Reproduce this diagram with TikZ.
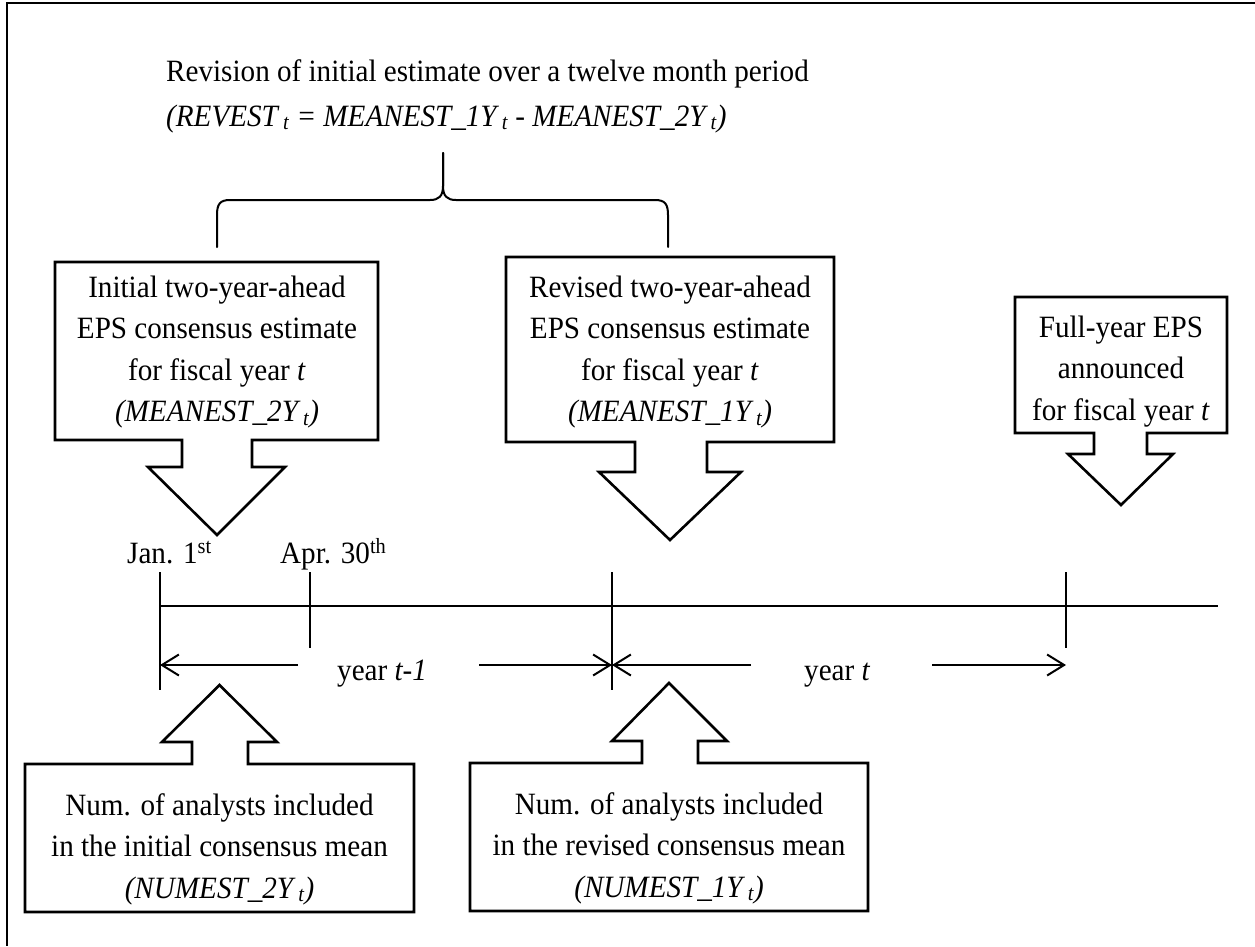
\documentclass[tikz,border=0pt]{standalone}
\usepackage{fontspec}
\setmainfont{Liberation Serif}[FakeStretch=0.94]
\usetikzlibrary{arrows.meta}
\begin{document}
\begin{tikzpicture}[x=1pt,y=-1pt,
  callout/.style={draw, line width=2.6pt, fill=white, line join=miter},
  txt/.style={font=\fontsize{31}{41.5}\selectfont, align=center, inner sep=0pt},
  lbl/.style={font=\fontsize{31}{41.5}\selectfont, inner sep=0pt},
  tl/.style={line width=2pt},
  yarr/.style={line width=2pt, -{Straight Barb[length=17pt,width=21pt,line width=2pt]}},
  bracepath/.style={line width=2pt, line cap=round}]
\useasboundingbox (0,0) rectangle (1255,946);
% frame (top and left)
\draw[line width=2.6pt] (1255,3) -- (7,3) -- (7,946);

% title
\node[txt, align=left, anchor=north west, font=\fontsize{31}{45}\selectfont] (title) at (166,59)
  {Revision of initial estimate over a twelve month period\\
   \textit{(REVEST\,\textsubscript{t} = MEANEST\_1Y\,\textsubscript{t} - MEANEST\_2Y\,\textsubscript{t})}};

% brace
\coordinate (bl) at (217,247);
\coordinate (br) at (668,247);
\coordinate (bt) at (443,153);
\draw[bracepath] (bl) -- (217,215) .. controls (217,204) and (220,200) .. (230,200) -- (430,200)
  .. controls (439,200) and (443,196) .. (443,186) -- (bt);
\draw[bracepath] (bt) -- (443,186) .. controls (443,196) and (447,200) .. (456,200) -- (655,200)
  .. controls (665,200) and (668,204) .. (668,215) -- (br);

% top callouts
\draw[callout] (55,262) -- (378,262) -- (378,440) -- (252,440) -- (252,467) -- (285,467) -- (217,535)
  -- (148,467) -- (182,467) -- (182,440) -- (55,440) -- cycle;
\node[txt] (t1) at (217,352) {Initial two-year-ahead\\EPS consensus estimate\\for fiscal year \textit{t}\\\textit{(MEANEST\_2Y\,\textsubscript{t})}};

\draw[callout] (506,257) -- (834,257) -- (834,442) -- (707,442) -- (707,472) -- (741,472) -- (670,540)
  -- (599,472) -- (635,472) -- (635,442) -- (506,442) -- cycle;
\node[txt] (t2) at (670,352) {Revised two-year-ahead\\EPS consensus estimate\\for fiscal year \textit{t}\\\textit{(MEANEST\_1Y\,\textsubscript{t})}};

\draw[callout] (1015,297) -- (1227,297) -- (1227,433) -- (1147,433) -- (1147,454) -- (1173,454) -- (1121,505)
  -- (1068,454) -- (1094,454) -- (1094,433) -- (1015,433) -- cycle;
\node[txt] (t3) at (1121,371.5) {Full-year EPS\\announced\\for fiscal year \textit{t}};

% timeline
\coordinate (jan) at (160,606);
\coordinate (apr) at (310,606);
\coordinate (mid) at (612,606);
\coordinate (end) at (1066,606);
\coordinate (tlend) at (1218,606);
\draw[tl] (jan) -- (tlend);
\draw[tl] (160,572) -- (160,690);
\draw[tl] (310,572) -- (310,648);
\draw[tl] (612,572) -- (612,690);
\draw[tl] (1066,572) -- (1066,648);

\node[lbl, anchor=base west] (janl) at (127,563) {Jan. 1\textsuperscript{st}};
\node[lbl, anchor=base west] (aprl) at (280,563) {Apr. 30\textsuperscript{th}};

% year arrows
\coordinate (a1s) at (298,665); \coordinate (a1e) at (160,665);
\coordinate (a2s) at (479,665); \coordinate (a2e) at (612,665);
\coordinate (a3s) at (751,665); \coordinate (a3e) at (612,665);
\coordinate (a4s) at (932,665); \coordinate (a4e) at (1066,665);
\draw[yarr] (a1s) -- (a1e);
\draw[yarr] (a2s) -- (a2e);
\draw[yarr] (a3s) -- (a3e);
\draw[yarr] (a4s) -- (a4e);
\node[lbl, anchor=base west] (y1) at (337,680) {year \textit{t-1}};
\node[lbl, anchor=base west] (y2) at (804,680) {year \textit{t}};

% bottom callouts
\draw[callout] (25,764) -- (192,764) -- (192,742) -- (162,742) -- (219.5,685) -- (277,742) -- (248,742)
  -- (248,764) -- (414,764) -- (414,912) -- (25,912) -- cycle;
\node[txt] (b1) at (219.5,849) {Num. of analysts included\\in the initial consensus mean\\\textit{(NUMEST\_2Y\,\textsubscript{t})}};

\draw[callout] (470,763) -- (642,763) -- (642,741) -- (612,741) -- (669,683) -- (727,741) -- (698,741)
  -- (698,763) -- (868,763) -- (868,911) -- (470,911) -- cycle;
\node[txt] (b2) at (669,848) {Num. of analysts included\\in the revised consensus mean\\\textit{(NUMEST\_1Y\,\textsubscript{t})}};
\end{tikzpicture}
\end{document}
